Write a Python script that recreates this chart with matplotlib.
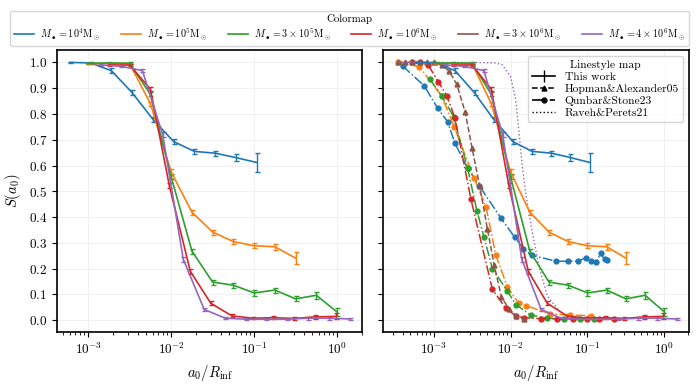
import numpy as np
import matplotlib
matplotlib.use('Agg')
import matplotlib.pyplot as plt
from matplotlib.lines import Line2D

plt.rcParams['font.family'] = 'serif'
plt.rcParams['font.serif'] = ['cmr10', 'DejaVu Serif']
plt.rcParams['mathtext.fontset'] = 'cm'
plt.rcParams['axes.formatter.use_mathtext'] = True
plt.rcParams['font.size'] = 9.5

labels = [r'$M_\bullet = 10^4\mathrm{M}_\odot$', r'$M_\bullet = 10^5\mathrm{M}_\odot$',
          r'$M_\bullet = 3\times10^5\mathrm{M}_\odot$', r'$M_\bullet = 10^6\mathrm{M}_\odot$',
          r'$M_\bullet = 3\times10^6\mathrm{M}_\odot$', r'$M_\bullet = 4\times10^6\mathrm{M}_\odot$']
colors = ['C0', 'C1', 'C2', 'C3', 'C5', 'C4']  # tab10: blue, orange, green, red, brown, purple

# "This work" (with error bars)
x_1e4 = [6.0e-4, 1.07e-3, 1.9e-3, 3.4e-3, 6.0e-3, 1.07e-2, 1.9e-2, 3.4e-2, 6.0e-2, 1.07e-1]
y_1e4 = [1.0, 0.998, 0.968, 0.882, 0.78, 0.693, 0.655, 0.648, 0.631, 0.612]
e_1e4 = [0.002, 0.003, 0.01, 0.01, 0.01, 0.01, 0.009, 0.01, 0.013, 0.036]

x_1e5 = [1e-3, 1.78e-3, 3.16e-3, 5.62e-3, 1e-2, 1.78e-2, 3.16e-2, 5.62e-2, 0.1, 0.178, 0.316]
y_1e5 = [0.995, 0.996, 0.995, 0.84, 0.575, 0.419, 0.342, 0.305, 0.289, 0.285, 0.241]
e_1e5 = [0.003, 0.003, 0.004, 0.008, 0.01, 0.01, 0.01, 0.01, 0.01, 0.012, 0.024]

x_3e5 = [1e-3, 1.78e-3, 3.16e-3, 5.62e-3, 1e-2, 1.78e-2, 3.16e-2, 5.62e-2, 0.1, 0.178, 0.316, 0.562, 1.0]
y_3e5 = [0.997, 0.998, 0.997, 0.876, 0.556, 0.268, 0.148, 0.136, 0.106, 0.117, 0.083, 0.097, 0.032]
e_3e5 = [0.002, 0.002, 0.003, 0.008, 0.01, 0.01, 0.01, 0.01, 0.01, 0.01, 0.01, 0.013, 0.015]

x_1e6 = [1.78e-3, 3.16e-3, 5.62e-3, 9.5e-3, 1.7e-2, 3.0e-2, 5.4e-2, 9.6e-2, 0.17, 0.3, 0.54, 0.96]
y_1e6 = [0.99, 0.99, 0.896, 0.522, 0.19, 0.066, 0.017, 0.008, 0.01, 0.007, 0.013, 0.015]
e_1e6 = [0.003, 0.004, 0.008, 0.01, 0.01, 0.008, 0.006, 0.005, 0.007, 0.006, 0.007, 0.012]

x_4e6 = [1.4e-3, 2.5e-3, 4.5e-3, 7.9e-3, 1.4e-2, 2.5e-2, 4.5e-2, 8.0e-2, 0.14, 0.25, 0.45, 0.79, 1.45]
y_4e6 = [0.99, 0.985, 0.968, 0.72, 0.236, 0.042, 0.008, 0.004, 0.004, 0.004, 0.008, 0.008, 0.005]
e_4e6 = [0.002, 0.003, 0.006, 0.01, 0.01, 0.006, 0.004, 0.003, 0.003, 0.004, 0.006, 0.006, 0.004]

# Hopman&Alexander05 (3e6)
x_ha = [3.4e-4, 4.3e-4, 5.3e-4, 6.6e-4, 8.2e-4, 1.0e-3, 1.29e-3, 1.6e-3, 2.0e-3,
        2.57e-3, 3.16e-3, 3.98e-3, 5.0e-3, 6.1e-3, 7.6e-3, 9.5e-3, 1.19e-2, 1.5e-2]
y_ha = [1.0, 1.0, 1.0, 1.0, 1.0, 1.0, 0.99, 0.965, 0.915,
        0.807, 0.668, 0.519, 0.354, 0.216, 0.09, 0.045, 0.017, 0.005]

# Qunbar&Stone23
xq_1e4 = [3.96e-4, 7.55e-4, 1.13e-3, 1.52e-3, 1.89e-3, 2.76e-3, 3.91e-3, 7.46e-3, 1.13e-2,
          1.47e-2, 1.88e-2, 3.94e-2, 5.57e-2, 7.5e-2, 9.44e-2, 0.112, 0.13, 0.148, 0.167, 0.181]
yq_1e4 = [0.986, 0.909, 0.822, 0.77, 0.687, 0.59, 0.522, 0.397, 0.322,
          0.278, 0.252, 0.229, 0.229, 0.229, 0.242, 0.229, 0.225, 0.259, 0.236, 0.232]
xq_1e5 = [3.4e-4, 6.5e-4, 1.27e-3, 1.85e-3, 3.37e-3, 4.8e-3, 6.4e-3, 9.1e-3, 1.27e-2,
          1.57e-2, 3.3e-2, 6.0e-2, 0.11]
yq_1e5 = [1.0, 0.984, 0.87, 0.75, 0.55, 0.44, 0.255, 0.128, 0.066,
          0.057, 0.025, 0.02, 0.018]
xq_3e5 = [9.0e-4, 1.27e-3, 1.82e-3, 2.76e-3, 3.65e-3, 4.5e-3, 5.8e-3, 9.1e-3, 1.17e-2,
          1.83e-2, 3.0e-2, 5.0e-2, 8.0e-2, 0.12]
yq_3e5 = [0.934, 0.87, 0.79, 0.59, 0.425, 0.324, 0.2, 0.113, 0.061,
          0.02, 0.008, 0.006, 0.006, 0.006]
xq_1e6 = [5.3e-4, 6.7e-4, 8.5e-4, 1.15e-3, 1.48e-3, 1.89e-3, 3.05e-3, 5.8e-3, 8.7e-3,
          1.17e-2, 1.5e-2, 2.5e-2, 4.0e-2, 6.5e-2, 0.1, 0.14, 0.22]
yq_1e6 = [1.0, 1.0, 0.99, 0.925, 0.871, 0.785, 0.47, 0.12, 0.046,
          0.017, 0.01, 0.006, 0.005, 0.005, 0.005, 0.005, 0.005]

# Raveh&Perets21 (4e6)
x_rp = [3.5e-4, 1e-3, 3e-3, 6.5e-3, 7.85e-3, 1.0e-2, 1.17e-2, 1.29e-2, 1.42e-2,
        1.62e-2, 1.92e-2, 2.34e-2, 3.0e-2, 4.48e-2]
y_rp = [1.0, 1.0, 1.0, 0.998, 0.99, 0.945, 0.854, 0.725, 0.596,
        0.468, 0.339, 0.21, 0.094, 0.03]

this_work = [(x_1e4, y_1e4, e_1e4, 0), (x_1e5, y_1e5, e_1e5, 1), (x_3e5, y_3e5, e_3e5, 2),
             (x_1e6, y_1e6, e_1e6, 3), (x_4e6, y_4e6, e_4e6, 5)]
qunbar = [(xq_1e4, yq_1e4, 0), (xq_1e5, yq_1e5, 1), (xq_3e5, yq_3e5, 2), (xq_1e6, yq_1e6, 3)]

fig = plt.figure(figsize=(6.99, 3.85), dpi=100)
ax1 = fig.add_axes([0.0815, 0.138, 0.437, 0.732])
ax2 = fig.add_axes([0.548, 0.138, 0.438, 0.732], sharey=ax1)

for ax in (ax1, ax2):
    for x, y, e, c in this_work:
        ax.errorbar(x, y, yerr=e, color=colors[c], lw=1.2, elinewidth=1.0,
                    capsize=1.8, capthick=1.0)

for x, y, c in qunbar:
    ax2.plot(x, y, '-.', marker='o', ms=3.5, color=colors[c], lw=1.1)
ax2.plot(x_ha, y_ha, '--', marker='^', ms=3.5, color=colors[4], lw=1.1)
ax2.plot(x_rp, y_rp, ':', color=colors[5], lw=1.0)

for ax in (ax1, ax2):
    ax.set_xscale('log')
    ax.grid(True, color='#f0f0f0', lw=0.7)
    ax.set_axisbelow(True)
    ax.set_xlabel(r'$a_0/R_{\rm inf}$', fontsize=10.5)
    ax.tick_params(direction='out')
    for s in ax.spines.values():
        s.set_linewidth(1.2)
ax1.set_xlim(4.2e-4, 2.02)
ax2.set_xlim(2.2e-4, 2.1)
ax1.set_ylim(-0.045, 1.048)
ax1.set_yticks(np.arange(0, 1.01, 0.1))
ax1.set_ylabel(r'$S(a_0)$', fontsize=10.5)
plt.setp(ax2.get_yticklabels(), visible=False)

handles = [Line2D([], [], color=c, lw=1.2) for c in colors]
fig.legend(handles, labels, loc='upper center', bbox_to_anchor=(0.5, 0.985), ncol=6,
           title='Colormap', fontsize=7.3, title_fontsize=7.8, handlelength=2.0,
           columnspacing=1.95, handletextpad=0.6, borderpad=0.35, labelspacing=0.2,
           edgecolor='#cccccc', fancybox=True)

ls_handles = [Line2D([], [], color='k', lw=1.2, marker='|', ms=9),
              Line2D([], [], color='k', ls='--', lw=1.1, marker='^', ms=3.5),
              Line2D([], [], color='k', ls='-.', lw=1.2, marker='o', ms=3.5),
              Line2D([], [], color='k', ls=':', lw=1.0)]
ax2.legend(ls_handles, ['This work', 'Hopman&Alexander05', 'Qunbar&Stone23', 'Raveh&Perets21'],
           loc='upper right', title='Linestyle map', fontsize=8.3, title_fontsize=8.3,
           handlelength=2.0, labelspacing=0.15, borderpad=0.4, edgecolor='#cccccc')

fig.savefig('out.png', dpi=100)
